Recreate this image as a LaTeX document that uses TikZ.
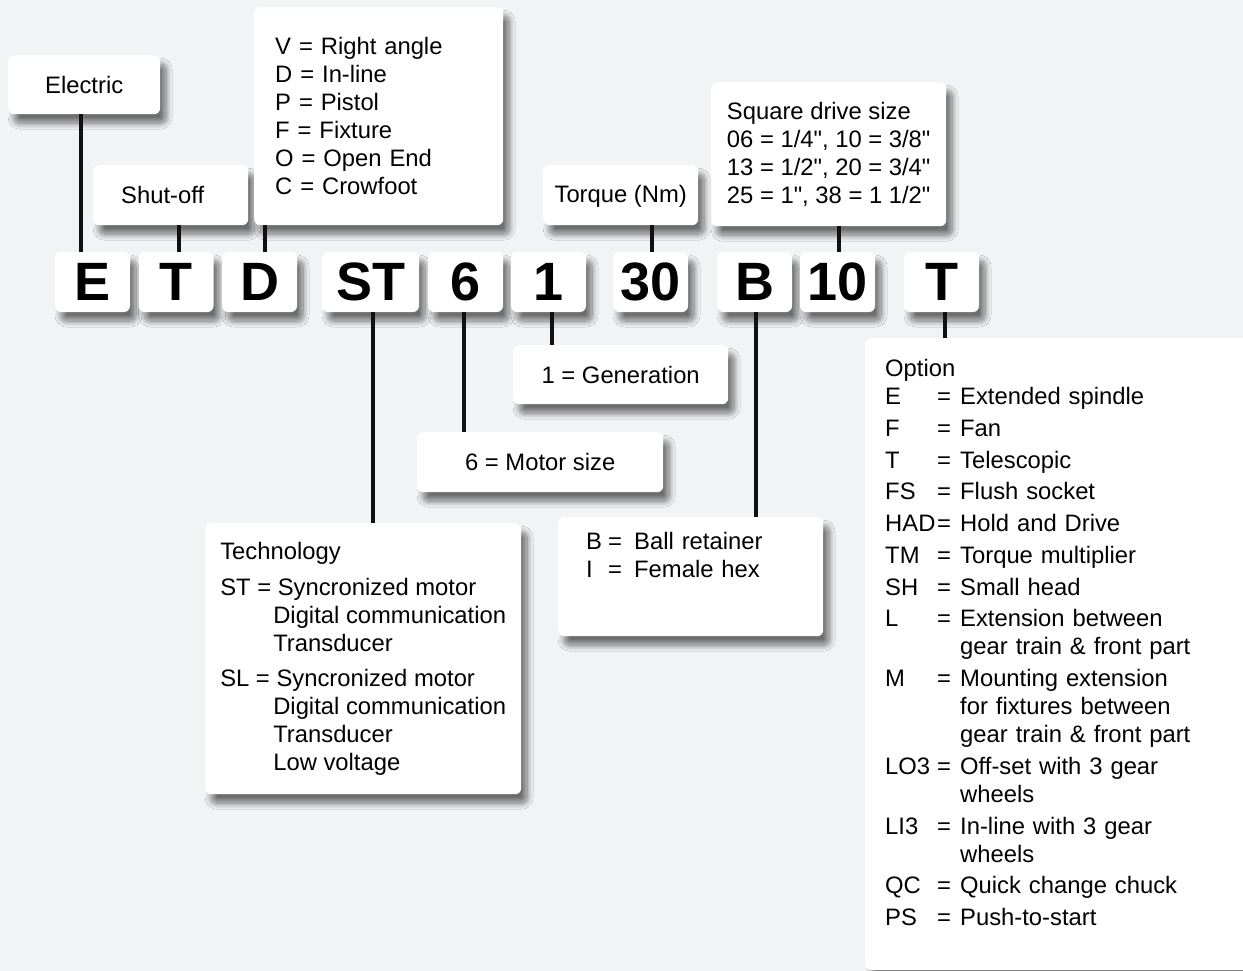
\documentclass[tikz,border=0pt]{standalone}
\usepackage{fontspec}
\setmainfont{Liberation Sans}[Ligatures=TeXOff]
\usetikzlibrary{shadows.blur}

\definecolor{bggray}{HTML}{F2F3F5}
\definecolor{linkblack}{HTML}{111111}

\tikzset{
  box/.style={fill=white, rounded corners=6pt, anchor=north west, inner sep=0pt,
    blur shadow={shadow xshift=6pt, shadow yshift=-9pt, shadow blur radius=6pt,
      shadow blur steps=20, shadow opacity=55}},
  code/.style={box, anchor=center, minimum width=75pt, minimum height=60pt,
    font=\fontsize{54}{54}\selectfont\bfseries},
  link/.style={draw=linkblack, line width=4.5pt},
}
% one row of the option list: code, "=", meaning
\newcommand\optrow[2]{\makebox[52pt][l]{#1}\makebox[23pt][l]{=}#2}
\newcommand\optmore{\hspace*{75pt}}

\begin{document}
\begin{tikzpicture}[x=1pt, y=-1pt, every node/.style={font=\fontsize{23.8}{28}\selectfont}]
\useasboundingbox (0,0) rectangle (1243,971);
\clip (0,0) rectangle (1243,971);
\fill[bggray] (0,0) rectangle (1243,971);

% the type code
\node[code] (E) at (92.5,282) {E};
\node[code] (T) at (176,282) {T};
\node[code] (D) at (259.5,282) {D};
\node[code, minimum width=97pt] (ST) at (370.5,282) {ST};
\node[code] (n6) at (465.5,282) {6};
\node[code] (n1) at (548.5,282) {1};
\node[code] (n30) at (650.5,282) {30};
\node[code] (B) at (754.5,282) {B};
\node[code] (n10) at (837.5,282) {10};
\node[code] (Topt) at (941.5,282) {T};

% boxes above
\node[box, minimum width=152pt, minimum height=59pt] (elec) at (8,55) {Electric};
\node[box, minimum width=155pt, minimum height=60pt, text width=99pt, align=left] (shut) at (93,165) {Shut-off};
\node[box, minimum width=249pt, minimum height=218pt, text width=207pt, align=left] (drive) at (254,7)
  {V = Right angle\\ D = In-line\\ P = Pistol\\ F = Fixture\\ O = Open End\\ C = Crowfoot};
\node[box, minimum width=155pt, minimum height=60pt, text depth=2pt] (torque) at (543,165) {Torque (Nm)};
\node[box, minimum width=235pt, minimum height=144pt, align=left] (square) at (711,82)
  {Square drive size\\ 06 = 1/4", 10 = 3/8"\\ 13 = 1/2", 20 = 3/4"\\ 25 = 1", 38 = 1 1/2"};

% boxes below
\node[box, minimum width=215pt, minimum height=59pt] (gen) at (513,345) {1 = Generation};
\node[box, minimum width=246pt, minimum height=60pt] (motor) at (417,432) {6 = Motor size};
\node[box, minimum width=265pt, minimum height=119pt, text width=209pt, align=left] (ret) at (558,517)
  {\makebox[22pt][l]{B}\makebox[26pt][l]{=}Ball retainer\\
   \makebox[22pt][l]{I}\makebox[26pt][l]{=}Female hex\\[15pt] \mbox{}};
\node[box, minimum width=316pt, minimum height=271pt, align=left] (tech) at (205,523)
  {Technology\\[8pt]
   ST = Syncronized motor\\ \hspace*{53pt}Digital communication\\ \hspace*{53pt}Transducer\\[7pt]
   SL = Syncronized motor\\ \hspace*{53pt}Digital communication\\ \hspace*{53pt}Transducer\\
   \hspace*{53pt}Low voltage};
\node[box, minimum width=420pt, minimum height=632pt, text width=380pt, align=left] (option) at (865,338)
  {Option\\
   \optrow{E}{Extended spindle}\\[3.75pt]
   \optrow{F}{Fan}\\[3.75pt]
   \optrow{T}{Telescopic}\\[3.75pt]
   \optrow{FS}{Flush socket}\\[3.75pt]
   \optrow{HAD}{Hold and Drive}\\[3.75pt]
   \optrow{TM}{Torque multiplier}\\[3.75pt]
   \optrow{SH}{Small head}\\[3.75pt]
   \optrow{L}{Extension between}\\ \optmore gear train \& front part\\[3.75pt]
   \optrow{M}{Mounting extension}\\ \optmore for fixtures between\\ \optmore gear train \& front part\\[3.75pt]
   \optrow{LO3}{Off-set with 3 gear}\\ \optmore wheels\\[3.75pt]
   \optrow{LI3}{In-line with 3 gear}\\ \optmore wheels\\[3.75pt]
   \optrow{QC}{Quick change chuck}\\[3.75pt]
   \optrow{PS}{Push-to-start}\\[-4.6pt] \mbox{}};

% connectors
\draw[link] ([xshift=-11.5pt]E.north) -- ([xshift=-11.5pt]E.north |- elec.south);
\draw[link] ([xshift=3pt]T.north) -- ([xshift=3pt]T.north |- shut.south);
\draw[link] ([xshift=5.5pt]D.north) -- ([xshift=5.5pt]D.north |- drive.south);
\draw[link] ([xshift=1.5pt]n30.north) -- ([xshift=1.5pt]n30.north |- torque.south);
\draw[link] ([xshift=1.5pt]n10.north) -- ([xshift=1.5pt]n10.north |- square.south);
\draw[link] ([xshift=2.5pt]ST.south) -- ([xshift=2.5pt]ST.south |- tech.north);
\draw[link] ([xshift=-1.5pt]n6.south) -- ([xshift=-1.5pt]n6.south |- motor.north);
\draw[link] ([xshift=3.5pt]n1.south) -- ([xshift=3.5pt]n1.south |- gen.north);
\draw[link] ([xshift=1.5pt]B.south) -- ([xshift=1.5pt]B.south |- ret.north);
\draw[link] ([xshift=3.5pt]Topt.south) -- ([xshift=3.5pt]Topt.south |- option.north);
\end{tikzpicture}
\end{document}
